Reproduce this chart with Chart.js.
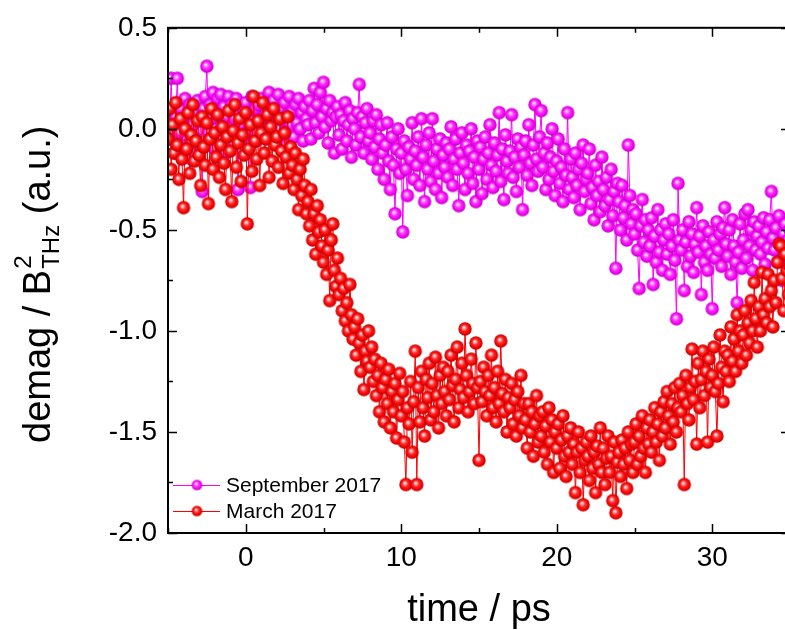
<!DOCTYPE html>
<html>
<head>
<meta charset="utf-8">
<script src="https://cdn.jsdelivr.net/npm/chart.js@4/dist/chart.umd.min.js"></script>
<style>
html,body{margin:0;padding:0;background:#fff;overflow:hidden;width:785px;height:630px;}
canvas{display:block;}
</style>
</head>
<body>
<canvas id="c" width="800" height="630" style="width:800px;height:630px"></canvas>
<script>
// ---- data (time in ps) ----
const times = [
-5,-4.9,-4.8,-4.7,-4.6,-4.5,-4.4,-4.3,-4.2,-4.1,
-4,-3.9,-3.8,-3.7,-3.6,-3.5,-3.4,-3.3,-3.2,-3.1,
-3,-2.9,-2.8,-2.7,-2.6,-2.5,-2.4,-2.3,-2.2,-2.1,
-2,-1.9,-1.8,-1.7,-1.6,-1.5,-1.4,-1.3,-1.2,-1.1,
-1,-0.9,-0.8,-0.7,-0.6,-0.5,-0.4,-0.3,-0.2,-0.1,
0,0.1,0.2,0.3,0.4,0.5,0.6,0.7,0.8,0.9,
1,1.1,1.2,1.3,1.4,1.5,1.6,1.7,1.8,1.9,
2,2.1,2.2,2.3,2.4,2.5,2.6,2.7,2.8,2.9,
3,3.1,3.2,3.3,3.4,3.5,3.6,3.7,3.8,3.9,
4,4.1,4.2,4.3,4.4,4.5,4.6,4.7,4.8,4.9,
5,5.1,5.2,5.3,5.4,5.5,5.6,5.7,5.8,5.9,
6,6.1,6.2,6.3,6.4,6.5,6.6,6.7,6.8,6.9,
7,7.1,7.2,7.3,7.4,7.5,7.6,7.7,7.8,7.9,
8,8.1,8.2,8.3,8.4,8.5,8.6,8.7,8.8,8.9,
9,9.1,9.2,9.3,9.4,9.5,9.6,9.7,9.8,9.9,
10,10.1,10.2,10.3,10.4,10.5,10.6,10.7,10.8,10.9,
11,11.1,11.2,11.3,11.4,11.5,11.6,11.7,11.8,11.9,
12,12.1,12.2,12.3,12.4,12.5,12.6,12.7,12.8,12.9,
13,13.1,13.2,13.3,13.4,13.5,13.6,13.7,13.8,13.9,
14,14.1,14.2,14.3,14.4,14.5,14.6,14.7,14.8,14.9,
15,15.1,15.2,15.3,15.4,15.5,15.6,15.7,15.8,15.9,
16,16.1,16.2,16.3,16.4,16.5,16.6,16.7,16.8,16.9,
17,17.1,17.2,17.3,17.4,17.5,17.6,17.7,17.8,17.9,
18,18.1,18.2,18.3,18.4,18.5,18.6,18.7,18.8,18.9,
19,19.1,19.2,19.3,19.4,19.5,19.6,19.7,19.8,19.9,
20,20.1,20.2,20.3,20.4,20.5,20.6,20.7,20.8,20.9,
21,21.1,21.2,21.3,21.4,21.5,21.6,21.7,21.8,21.9,
22,22.1,22.2,22.3,22.4,22.5,22.6,22.7,22.8,22.9,
23,23.1,23.2,23.3,23.4,23.5,23.6,23.7,23.8,23.9,
24,24.1,24.2,24.3,24.4,24.5,24.6,24.7,24.8,24.9,
25,25.1,25.2,25.3,25.4,25.5,25.6,25.7,25.8,25.9,
26,26.1,26.2,26.3,26.4,26.5,26.6,26.7,26.8,26.9,
27,27.1,27.2,27.3,27.4,27.5,27.6,27.7,27.8,27.9,
28,28.1,28.2,28.3,28.4,28.5,28.6,28.7,28.8,28.9,
29,29.1,29.2,29.3,29.4,29.5,29.6,29.7,29.8,29.9,
30,30.1,30.2,30.3,30.4,30.5,30.6,30.7,30.8,30.9,
31,31.1,31.2,31.3,31.4,31.5,31.6,31.7,31.8,31.9,
32,32.1,32.2,32.3,32.4,32.5,32.6,32.7,32.8,32.9,
33,33.1,33.2,33.3,33.4,33.5,33.6,33.7,33.8,33.9,
34,34.1,34.2,34.3,34.4,34.5,34.6,34.7,34.8,34.9,
35];

const september2017 = [
0.08,-0.05,0.25,0.02,-0.12,0.06,0.25,-0.02,0.10,-0.08,
0.03,0.15,-0.10,0.05,0.12,-0.15,0.02,0.08,-0.05,0.14,
-0.08,0.04,-0.31,0.10,0.16,0.31,-0.02,0.12,0.05,0.18,
-0.10,0.08,0.15,-0.05,0.17,0.02,0.11,-0.12,0.06,0.16,
0.00,0.12,-0.08,0.05,0.15,-0.30,0.08,0.02,0.10,-0.04,
0.13,-0.02,0.07,-0.29,0.16,0.04,0.10,-0.06,0.12,0.03,
0.15,0.05,-0.03,0.11,0.06,0.18,-0.01,0.09,0.14,0.02,
0.06,0.17,0.00,0.10,0.04,0.13,-0.08,0.07,0.16,0.02,
0.09,-0.04,0.12,0.03,0.15,0.00,0.08,-0.06,0.11,0.05,
0.02,0.14,-0.05,0.09,0.20,0.03,0.12,-0.02,0.18,0.06,
0.23,0.01,0.10,-0.07,0.14,0.04,0.08,-0.12,0.06,0.11,
-0.03,0.07,-0.10,0.04,0.13,-0.06,0.02,0.09,-0.14,0.05,
0.00,-0.08,0.08,0.22,-0.04,0.06,-0.12,0.03,0.10,-0.06,
-0.02,-0.15,0.04,-0.09,0.07,-0.20,-0.05,0.02,-0.12,-0.25,
-0.08,0.03,-0.16,-0.30,-0.04,-0.18,-0.42,-0.10,0.00,-0.22,
-0.12,-0.51,-0.06,-0.20,-0.33,-0.09,-0.15,0.03,-0.25,-0.11,
-0.18,-0.04,-0.28,0.05,-0.14,-0.36,-0.08,-0.20,-0.02,-0.26,
0.05,-0.16,-0.30,-0.10,-0.22,-0.05,-0.34,-0.13,-0.19,-0.07,
-0.24,-0.10,0.01,-0.28,-0.15,-0.05,-0.20,-0.38,-0.12,-0.02,
-0.17,-0.30,-0.08,-0.22,-0.11,0.00,-0.27,-0.14,-0.36,-0.06,
-0.20,-0.09,-0.32,-0.15,-0.04,-0.25,-0.12,0.02,-0.18,-0.29,
-0.07,-0.21,-0.13,0.08,-0.26,-0.10,-0.35,-0.03,-0.16,-0.22,
-0.11,0.07,-0.24,-0.14,-0.31,-0.05,-0.19,-0.09,-0.40,-0.13,
-0.06,-0.23,0.02,-0.17,-0.28,-0.08,0.12,-0.15,-0.21,-0.04,
0.09,-0.19,-0.12,-0.30,-0.07,-0.25,-0.14,0.00,-0.21,-0.33,
-0.16,-0.05,-0.27,-0.19,-0.36,-0.10,-0.23,0.08,-0.30,-0.15,
-0.24,-0.34,-0.12,-0.28,-0.20,-0.40,-0.17,-0.08,-0.31,-0.25,
-0.22,-0.10,-0.37,-0.29,-0.45,-0.18,-0.33,-0.26,-0.41,-0.14,
-0.30,-0.38,-0.24,-0.48,-0.35,-0.20,-0.43,-0.31,-0.69,-0.27,
-0.36,-0.50,-0.28,-0.44,-0.38,-0.55,-0.08,-0.33,-0.47,-0.40,
-0.52,-0.42,-0.60,-0.79,-0.48,-0.35,-0.56,-0.45,-0.63,-0.50,
-0.58,-0.44,-0.77,-0.53,-0.66,-0.40,-0.61,-0.50,-0.70,-0.55,
-0.47,-0.62,-0.52,-0.72,-0.58,-0.45,-0.65,-0.94,-0.27,-0.55,
-0.60,-0.50,-0.80,-0.56,-0.68,-0.46,-0.63,-0.52,-0.71,-0.57,
-0.39,-0.61,-0.53,-0.82,-0.48,-0.66,-0.58,-0.70,-0.51,-0.62,
-0.89,-0.55,-0.64,-0.46,-0.60,-0.52,-0.68,-0.49,-0.39,-0.57,
-0.63,-0.50,-0.72,-0.45,-0.58,-0.66,-0.86,-0.61,-0.47,-0.69,
-0.55,-0.42,-0.64,-0.40,-0.58,-0.50,-0.70,-0.46,-0.60,-0.53,
-0.48,-0.62,-0.56,-0.44,-0.67,-0.51,-0.59,-0.45,-0.31,-0.54,
-0.60,-0.49,-0.66,-0.43,-0.57,-0.75,-0.52,-0.47,-0.63,-0.55,
-0.50];

const march2017 = [
-0.05,0.10,-0.20,0.02,-0.12,0.13,-0.08,-0.25,0.05,-0.15,
-0.39,0.00,-0.10,0.08,-0.22,-0.03,0.12,-0.16,-0.06,0.04,
-0.13,-0.28,0.06,-0.09,-0.18,0.03,-0.37,-0.05,0.10,-0.20,
-0.02,-0.14,0.07,-0.24,-0.08,0.01,-0.17,-0.30,-0.04,0.09,
-0.11,-0.36,-0.01,0.12,-0.19,-0.07,0.05,-0.26,-0.03,-0.13,
0.08,-0.47,-0.10,0.02,-0.21,0.16,-0.06,-0.15,0.04,-0.28,
-0.02,0.13,-0.12,-0.05,0.07,-0.24,0.01,-0.16,0.10,-0.08,
-0.04,-0.19,0.05,-0.11,-0.27,-0.02,-0.14,0.06,-0.22,-0.09,
-0.18,-0.30,-0.12,-0.25,-0.40,-0.20,-0.33,-0.15,-0.28,-0.42,
-0.36,-0.48,-0.30,-0.55,-0.42,-0.62,-0.38,-0.51,-0.45,-0.58,
-0.66,-0.50,-0.72,-0.60,-0.85,-0.55,-0.47,-0.70,-0.78,-0.64,
-0.82,-0.74,-0.90,-0.79,-0.95,-0.86,-1.00,-0.77,-0.92,-1.04,
-0.98,-1.12,-0.94,-1.06,-1.20,-1.02,-1.29,-1.10,-1.15,-1.00,
-1.18,-1.08,-1.25,-1.14,-1.32,-1.22,-1.40,-1.16,-1.28,-1.45,
-1.24,-1.36,-1.19,-1.48,-1.30,-1.40,-1.26,-1.53,-1.34,-1.21,
-1.42,-1.30,-1.55,-1.76,-1.38,-1.46,-1.25,-1.60,-1.35,-1.10,
-1.76,-1.28,-1.45,-1.20,-1.38,-1.52,-1.24,-1.33,-1.16,-1.44,
-1.26,-1.40,-1.13,-1.32,-1.48,-1.22,-1.36,-1.18,-1.30,-1.42,
-1.20,-1.34,-1.12,-1.27,-1.45,-1.24,-1.08,-1.38,-1.29,-1.16,
-1.33,-0.99,-1.22,-1.40,-1.30,-1.14,-1.26,-1.36,-1.06,-1.28,
-1.64,-1.25,-1.35,-1.18,-1.30,-1.42,-1.22,-1.32,-1.12,-1.38,
-1.28,-1.45,-1.20,-1.36,-1.05,-1.31,-1.40,-1.24,-1.50,-1.33,
-1.38,-1.26,-1.46,-1.34,-1.52,-1.30,-1.42,-1.22,-1.48,-1.36,
-1.44,-1.58,-1.36,-1.50,-1.40,-1.62,-1.46,-1.32,-1.55,-1.42,
-1.52,-1.40,-1.60,-1.47,-1.66,-1.38,-1.55,-1.44,-1.70,-1.50,
-1.58,-1.46,-1.68,-1.54,-1.42,-1.62,-1.72,-1.52,-1.60,-1.48,
-1.66,-1.56,-1.80,-1.60,-1.50,-1.70,-1.58,-1.86,-1.64,-1.55,
-1.62,-1.74,-1.52,-1.68,-1.60,-1.80,-1.57,-1.66,-1.48,-1.70,
-1.58,-1.76,-1.63,-1.52,-1.70,-1.62,-1.84,-1.55,-1.90,-1.65,
-1.60,-1.72,-1.54,-1.66,-1.58,-1.78,-1.50,-1.64,-1.56,-1.70,
-1.55,-1.46,-1.66,-1.52,-1.62,-1.42,-1.58,-1.70,-1.48,-1.56,
-1.44,-1.60,-1.50,-1.38,-1.55,-1.46,-1.64,-1.40,-1.52,-1.35,
-1.48,-1.30,-1.42,-1.56,-1.36,-1.45,-1.28,-1.50,-1.38,-1.26,
-1.40,-1.32,-1.76,-1.22,-1.36,-1.44,-1.28,-1.09,-1.34,-1.25,
-1.56,-1.16,-1.38,-1.24,-1.10,-1.32,-1.20,-1.55,-1.14,-1.28,
-1.22,-1.08,-1.30,-1.52,-1.26,-1.02,-1.18,-1.35,-1.10,-1.20,
-1.12,-1.25,-0.98,-1.15,-1.04,-1.20,-0.92,-1.10,-1.00,-1.16,
-1.02,-0.90,-1.12,-0.96,-1.06,-0.85,-1.00,-0.76,-0.94,-1.08,
-0.88,-1.00,-0.71,-0.92,-0.84,-0.96,-0.72,-0.88,-0.80,-0.98,
-0.75,-0.86,-0.66,-0.57,-0.58,-0.74,-0.90,-0.62,-0.70,-0.82,
-0.68];

const seriesNames = ['September 2017', 'March 2017'];
const xTickValues = [0, 10, 20, 30];
const yTickValues = [0.5, 0.0, -0.5, -1.0, -1.5, -2.0];
const xMinorStep = 5;
const yMinorStep = 0.25;

// ---- sphere markers ----
function sphere(r, hi, mid, body, dark) {
  const s = Math.ceil(2 * r + 2);
  const c = document.createElement('canvas');
  c.width = s; c.height = s;
  const g = c.getContext('2d');
  const cx = s / 2, cy = s / 2;
  const gr = g.createRadialGradient(cx - r * 0.2, cy - r * 0.25, 0, cx, cy, r);
  gr.addColorStop(0, '#ffffff');
  gr.addColorStop(0.18, hi);
  gr.addColorStop(0.45, mid);
  gr.addColorStop(0.8, body);
  gr.addColorStop(1, dark);
  g.fillStyle = gr;
  g.beginPath(); g.arc(cx, cy, r, 0, Math.PI * 2); g.fill();
  return c;
}
const magBall = sphere(6.7, '#ffb8ff', '#ff30ff', '#f000f0', '#b400b4');
const redBall = sphere(6.7, '#ffb8b8', '#ff2a2a', '#f00000', '#b40000');
const magBallS = sphere(5.3, '#ffb8ff', '#ff30ff', '#f000f0', '#b400b4');
const redBallS = sphere(5.3, '#ffb8b8', '#ff2a2a', '#f00000', '#b40000');

const FONT = "'Liberation Sans', Arial, sans-serif";

const framePlugin = {
  id: 'frame',
  afterDatasetsDraw(chart) {
    const ctx = chart.ctx, a = chart.chartArea;
    const xs = chart.scales.x, ys = chart.scales.y;
    ctx.save();
    ctx.strokeStyle = '#000';
    ctx.lineWidth = 2;
    ctx.strokeRect(a.left, a.top, a.right - a.left, a.bottom - a.top);
    ctx.lineWidth = 1.5;
    ctx.beginPath();
    for (let v = xs.min; v <= xs.max + 1e-9; v += xMinorStep) {
      const px = Math.round(xs.getPixelForValue(v)) + 0.5;
      const len = (Math.abs(v % 10) < 1e-9) ? 9 : 5;
      ctx.moveTo(px, a.bottom); ctx.lineTo(px, a.bottom - len);
      ctx.moveTo(px, a.top); ctx.lineTo(px, a.top + len);
    }
    for (let v = ys.min; v <= ys.max + 1e-9; v += yMinorStep) {
      const py = Math.round(ys.getPixelForValue(v)) + 0.5;
      const major = Math.abs((v * 2) - Math.round(v * 2)) < 1e-9;
      const len = major ? 9 : 5;
      ctx.moveTo(a.left, py); ctx.lineTo(a.left + len, py);
      ctx.moveTo(a.right, py); ctx.lineTo(a.right - len, py);
    }
    ctx.stroke();
    ctx.restore();
  },
  afterDraw(chart) {
    const ctx = chart.ctx;
    ctx.save();
    ctx.fillStyle = '#000';
    // x title
    ctx.font = '38px ' + FONT;
    ctx.textAlign = 'center';
    ctx.textBaseline = 'alphabetic';
    ctx.fillText('time / ps', 479, 621);
    // y title with super/subscript
    ctx.translate(50, 443);
    ctx.rotate(-Math.PI / 2);
    ctx.textAlign = 'left';
    ctx.font = '38px ' + FONT;
    const p1 = 'demag / B';
    ctx.fillText(p1, 0, 0);
    let x = ctx.measureText(p1).width + 1;
    ctx.font = '24px ' + FONT;
    ctx.fillText('2', x, -19);
    ctx.fillText('THz', x, 9);
    x += ctx.measureText('THz').width;
    ctx.font = '38px ' + FONT;
    ctx.fillText(' (a.u.)', x, 0);
    ctx.restore();

    // legend
    ctx.save();
    const items = [
      { name: seriesNames[0], color: '#ff00ff', ball: magBallS, y: 485 },
      { name: seriesNames[1], color: '#ff0000', ball: redBallS, y: 511 }
    ];
    ctx.font = '21px ' + FONT;
    ctx.textBaseline = 'middle';
    ctx.textAlign = 'left';
    for (const it of items) {
      ctx.strokeStyle = it.color;
      ctx.lineWidth = 1;
      ctx.beginPath();
      ctx.moveTo(173, it.y + 0.5); ctx.lineTo(220, it.y + 0.5);
      ctx.stroke();
      ctx.drawImage(it.ball, 197 - it.ball.width / 2, it.y - it.ball.height / 2);
      ctx.fillStyle = '#000';
      ctx.fillText(it.name, 226, it.y + 1);
    }
    ctx.restore();
  }
};

const toPts = (arr) => arr.map((v, i) => ({ x: times[i], y: v }));

new Chart(document.getElementById('c'), {
  type: 'line',
  data: {
    datasets: [
      {
        label: seriesNames[0],
        data: toPts(september2017),
        borderColor: '#ff00ff',
        borderWidth: 1,
        pointStyle: magBall,
        pointRadius: 6,
        pointHoverRadius: 6,
        fill: false,
        tension: 0,
        order: 2
      },
      {
        label: seriesNames[1],
        data: toPts(march2017),
        borderColor: '#ff0000',
        borderWidth: 1,
        pointStyle: redBall,
        pointRadius: 6,
        pointHoverRadius: 6,
        fill: false,
        tension: 0,
        order: 1
      }
    ]
  },
  options: {
    responsive: false,
    animation: false,
    events: [],
    layout: { padding: { left: 0, top: 21, right: 10, bottom: 0 } },
    plugins: { legend: { display: false }, tooltip: { enabled: false } },
    scales: {
      x: {
        type: 'linear',
        min: -5, max: 35,
        grid: { display: false, drawTicks: false },
        border: { display: false },
        afterBuildTicks: (s) => { s.ticks = xTickValues.map(v => ({ value: v })); },
        afterFit: (s) => { s.height = 97; },
        ticks: {
          color: '#000',
          padding: 8,
          maxRotation: 0,
          font: { family: FONT, size: 28 },
          callback: (v) => String(v)
        }
      },
      y: {
        type: 'linear',
        min: -2, max: 0.5,
        grid: { display: false, drawTicks: false },
        border: { display: false },
        afterBuildTicks: (s) => { s.ticks = yTickValues.map(v => ({ value: v })); },
        afterFit: (s) => { s.width = 168; },
        ticks: {
          color: '#000',
          padding: 11,
          font: { family: FONT, size: 28 },
          callback: (v) => Number(v).toFixed(1)
        }
      }
    }
  },
  plugins: [framePlugin]
});
</script>
</body>
</html>
